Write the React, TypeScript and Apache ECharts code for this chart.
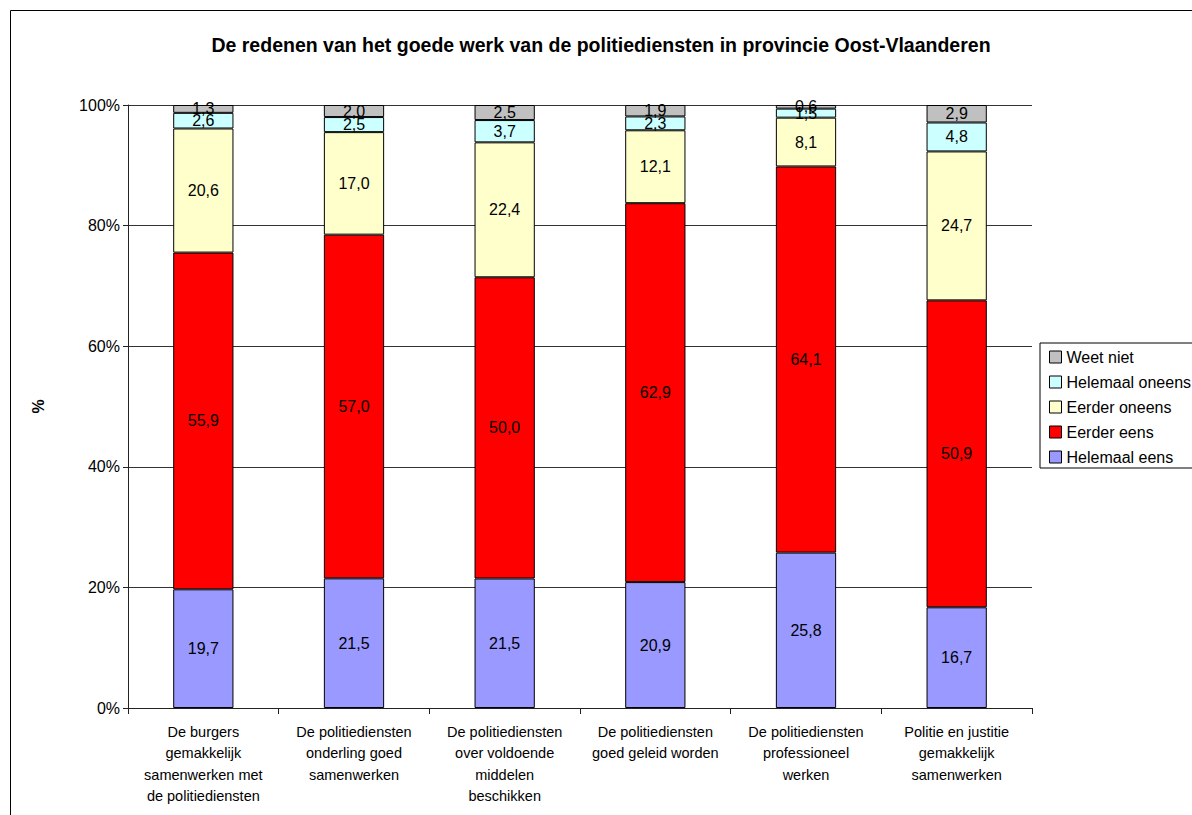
import React, { useEffect, useRef } from "react";
import * as echarts from "echarts";

const categories = [
  "De burgers\ngemakkelijk\nsamenwerken met\nde politiediensten",
  "De politiediensten\nonderling goed\nsamenwerken",
  "De politiediensten\nover voldoende\nmiddelen\nbeschikken",
  "De politiediensten\ngoed geleid worden",
  "De politiediensten\nprofessioneel\nwerken",
  "Politie en justitie\ngemakkelijk\nsamenwerken",
];

const helemaalEens = [19.7, 21.5, 21.5, 20.9, 25.8, 16.7];
const eerderEens = [55.9, 57.0, 50.0, 62.9, 64.1, 50.9];
const eerderOneens = [20.6, 17.0, 22.4, 12.1, 8.1, 24.7];
const helemaalOneens = [2.6, 2.5, 3.7, 2.3, 1.5, 4.8];
const weetNiet = [1.3, 2.0, 2.5, 1.9, 0.6, 2.9];

const seriesDefs = [
  { name: "Helemaal eens", data: helemaalEens, color: "#9999FF" },
  { name: "Eerder eens", data: eerderEens, color: "#FF0000" },
  { name: "Eerder oneens", data: eerderOneens, color: "#FFFFCC" },
  { name: "Helemaal oneens", data: helemaalOneens, color: "#CCFFFF" },
  { name: "Weet niet", data: weetNiet, color: "#C0C0C0" },
];

const yTicks = [0, 20, 40, 60, 80, 100];
const FONT = "'Liberation Sans', Arial, sans-serif";

export default function App() {
  const ref = useRef<HTMLDivElement>(null);
  useEffect(() => {
    if (!ref.current) return;
    const chart = echarts.init(ref.current, undefined, { renderer: "svg" });
    const totals = categories.map((_, i) =>
      seriesDefs.reduce((s, d) => s + d.data[i], 0)
    );
    const series = seriesDefs.map((d) => ({
      name: d.name,
      type: "bar",
      stack: "total",
      barCategoryGap: "60%",
      data: d.data.map((v, i) => ({ value: (v / totals[i]) * 100, raw: v })),
      itemStyle: { color: d.color, borderColor: "#000", borderWidth: 1 },
      label: {
        show: true,
        position: "inside",
        color: "#000",
        fontFamily: FONT,
        fontSize: 16,
        formatter: (p: any) => p.data.raw.toFixed(1).replace(".", ","),
      },
    }));
    chart.setOption({
      animation: false,
      backgroundColor: "#fff",
      title: {
        text: "De redenen van het goede werk van de politiediensten in provincie Oost-Vlaanderen",
        left: 596,
        textAlign: "center",
        top: 30,
        textStyle: { fontFamily: FONT, fontSize: 19.5, fontWeight: "bold", color: "#000" },
      },
      graphic: [
        {
          type: "rect",
          shape: { x: 10.5, y: 10.5, width: 1300, height: 900 },
          style: { fill: "none", stroke: "#000", lineWidth: 1 },
          silent: true,
        },
      ],
      legend: {
        orient: "vertical",
        left: 1040,
        top: 343,
        width: 200,
        padding: [6, 60, 3, 9],
        borderColor: "#000",
        borderWidth: 1,
        itemWidth: 12,
        itemHeight: 12,
        itemGap: 9,
        icon: "rect",
        data: ["Weet niet", "Helemaal oneens", "Eerder oneens", "Eerder eens", "Helemaal eens"],
        textStyle: { fontFamily: FONT, fontSize: 16, color: "#000" },
        itemStyle: { borderColor: "#000", borderWidth: 1 },
      },
      grid: { left: 128, right: 160, top: 105, bottom: 107 },
      xAxis: {
        type: "category",
        data: categories,
        axisLine: { lineStyle: { color: "#222" } },
        axisTick: { show: true, length: 6, lineStyle: { color: "#222" } },
        axisLabel: {
          fontFamily: FONT,
          fontSize: 14.5,
          color: "#000",
          lineHeight: 21.5,
          margin: 13,
          interval: 0,
        },
      },
      yAxis: {
        type: "value",
        min: 0,
        max: 100,
        interval: 20,
        name: "%",
        nameLocation: "middle",
        nameRotate: 90,
        nameGap: 82,
        nameTextStyle: { fontFamily: FONT, fontSize: 16, fontWeight: "bold", color: "#000" },
        axisLine: { show: true, lineStyle: { color: "#222" } },
        axisTick: { show: true, length: 5, lineStyle: { color: "#222" } },
        axisLabel: {
          fontFamily: FONT,
          fontSize: 16,
          color: "#000",
          margin: 8,
          formatter: (v: number) => (yTicks.includes(v) ? v + "%" : ""),
        },
        splitLine: { show: true, lineStyle: { color: "#333", width: 1 } },
      },
      series,
    });
    return () => chart.dispose();
  }, []);
  return (
    <div
      ref={ref}
      style={{ position: "fixed", left: 0, top: 0, width: 1192, height: 815 }}
    />
  );
}
